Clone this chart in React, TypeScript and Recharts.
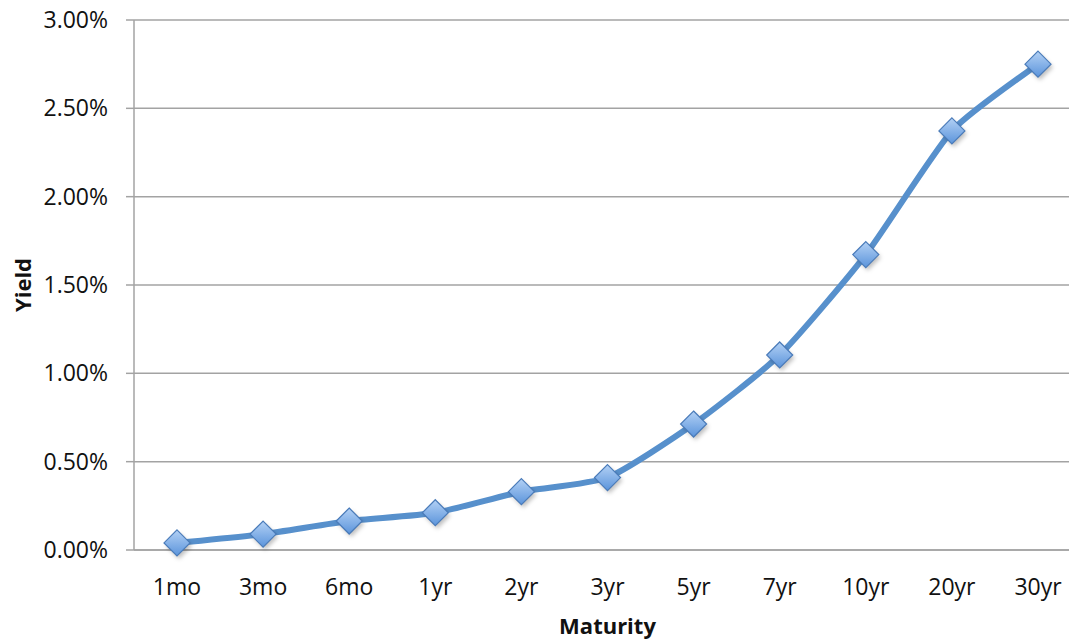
import { LineChart, Line, XAxis, YAxis, CartesianGrid } from "recharts";

const maturities = ["1mo", "3mo", "6mo", "1yr", "2yr", "3yr", "5yr", "7yr", "10yr", "20yr", "30yr"];
const yields = [0.04, 0.09, 0.164, 0.211, 0.33, 0.41, 0.713, 1.104, 1.672, 2.372, 2.75];
const yTicks = [0, 0.5, 1, 1.5, 2, 2.5, 3];

const data = maturities.map((m, i) => ({ maturity: m, yield: yields[i] }));

const FONT = '"Open Sans", "Liberation Sans", sans-serif';
const GRID = "#a3a3a3";
const LINE = "#5790cc";

// gentle cardinal smoothing, close to Excel's "smoothed line"
function smoothCurve(context: any) {
  let pts: number[][] = [];
  return {
    areaStart() {},
    areaEnd() {},
    lineStart() {
      pts = [];
    },
    point(x: number, y: number) {
      pts.push([+x, +y]);
    },
    lineEnd() {
      if (!pts.length) return;
      context.moveTo(pts[0][0], pts[0][1]);
      const t = 0.1;
      for (let i = 0; i < pts.length - 1; i++) {
        const p0 = pts[i - 1] || pts[i];
        const p1 = pts[i];
        const p2 = pts[i + 1];
        const p3 = pts[i + 2] || p2;
        context.bezierCurveTo(
          p1[0] + (p2[0] - p0[0]) * t,
          p1[1] + (p2[1] - p0[1]) * t,
          p2[0] - (p3[0] - p1[0]) * t,
          p2[1] - (p3[1] - p1[1]) * t,
          p2[0],
          p2[1]
        );
      }
    },
  };
}

function Diamond(props: any) {
  const { cx, cy } = props;
  if (cx == null || cy == null) return null;
  const r = 13;
  const pts = `${cx},${cy - r} ${cx + r},${cy} ${cx},${cy + r} ${cx - r},${cy}`;
  return (
    <g>
      <polygon points={pts} fill="rgba(0,0,0,0.25)" transform="translate(2,3)" filter="url(#mk-blur)" />
      <polygon points={pts} fill="url(#mk-fill)" stroke="#4a7bb9" strokeWidth={1.2} />
    </g>
  );
}

export default function App() {
  return (
    <div style={{ position: "fixed", left: 0, top: 0, width: 1069, height: 642, overflow: "hidden", background: "#fff" }}>
      <LineChart width={1090} height={642} data={data} margin={{ top: 20, right: 9, bottom: 0, left: 0 }}>
        <defs>
          <linearGradient id="mk-fill" x1="0" y1="0" x2="0" y2="1">
            <stop offset="0%" stopColor="#b3d1f5" />
            <stop offset="100%" stopColor="#5b94db" />
          </linearGradient>
          <filter id="mk-blur" x="-50%" y="-50%" width="200%" height="200%">
            <feGaussianBlur stdDeviation="2" />
          </filter>
        </defs>
        <CartesianGrid vertical={false} stroke={GRID} strokeWidth={1.5} />
        <XAxis
          dataKey="maturity"
          height={92}
          padding={{ left: 43, right: 43 }}
          axisLine={{ stroke: GRID, strokeWidth: 1.5 }}
          tickLine={false}
          tickSize={0}
          tickMargin={29}
          tick={{ fill: "#111", fontSize: 23, fontFamily: FONT }}
          interval={0}
          label={{
            content: ({ viewBox }: any) => (
              <text
                x={viewBox.x + viewBox.width / 2}
                y={viewBox.y + 84}
                textAnchor="middle"
                fontFamily={FONT}
                fontWeight="bold"
                fontSize={22}
                fill="#111"
              >
                Maturity
              </text>
            ),
          }}
        />
        <YAxis
          width={134}
          domain={[0, 3]}
          ticks={yTicks}
          interval={0}
          axisLine={{ stroke: GRID, strokeWidth: 1.5 }}
          tickLine={{ stroke: GRID, strokeWidth: 1.5 }}
          tickSize={8}
          tickMargin={18}
          tickFormatter={(v: number) => `${v.toFixed(2)}%`}
          tick={{ fill: "#111", fontSize: 23, fontFamily: FONT }}
          label={{
            content: ({ viewBox }: any) => {
              const x = 31;
              const y = viewBox.y + viewBox.height / 2;
              return (
                <text
                  x={x}
                  y={y}
                  transform={`rotate(-90 ${x} ${y})`}
                  textAnchor="middle"
                  fontFamily={FONT}
                  fontWeight="bold"
                  fontSize={22}
                  fill="#111"
                >
                  Yield
                </text>
              );
            },
          }}
        />
        <Line
          type={smoothCurve as any}
          dataKey="yield"
          stroke={LINE}
          strokeWidth={6}
          dot={<Diamond />}
          activeDot={false}
          isAnimationActive={false}
        />
      </LineChart>
    </div>
  );
}
